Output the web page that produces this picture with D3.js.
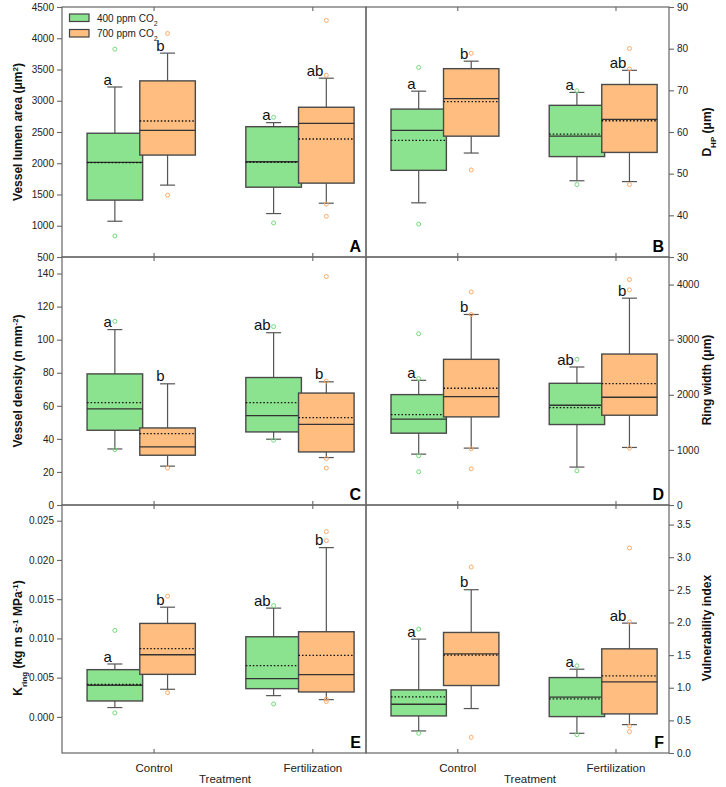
<!DOCTYPE html>
<html><head><meta charset="utf-8">
<script src="https://cdn.jsdelivr.net/npm/d3@7"></script>
<style>body{margin:0;background:#fff}svg{display:block}</style>
</head><body>
<script>
// ---------- data ----------
const categories = ["Control", "Fertilization"];
const seriesNames = ["400 ppm CO", "700 ppm CO"];
// box stats: [whiskerLow, q1, median, q3, whiskerHigh, mean]
const lumen400 = [[1072,1410,2013,2480,3220,2010],[1195,1617,2024,2585,2650,2013]];
const lumen700 = [[1650,2131,2527,3318,3762,2676],[1361,1682,2639,2896,3361,2388]];
const lumenOut400 = [[3826,837],[2735,1045]];
const lumenOut700 = [[4077,1489],[4286,3409,1345,1152]];
const lumenLet400 = ["a","a"], lumenLet700 = ["b","ab"];

const dhp400 = [[43.0,50.8,60.4,65.5,69.8,58.0],[48.3,54.1,59.0,66.4,69.5,59.5]];
const dhp700 = [[54.95,59.0,68.0,75.2,77.0,67.3],[48.1,55.1,63.05,71.4,74.8,62.7]];
const dhpOut400 = [[75.5,37.9],[69.9,47.4]];
const dhpOut700 = [[78.9,50.9],[80.05,75.1,47.4]];
const dhpLet400 = ["a","a"], dhpLet700 = ["b","ab"];

const dens400 = [[33.9,45.2,58.2,79.3,106.1,61.9],[39.8,44.2,54.0,77.1,104.2,61.9]];
const dens700 = [[23.5,30.1,35.2,46.6,73.3,43.2],[28.7,32.1,48.8,67.7,74.5,52.8]];
const densOut400 = [[111.1,33.5],[107.9,39.2]];
const densOut700 = [[22.3],[138.2,74.9,28.1,22.3]];
const densLet400 = ["a","ab"], densLet700 = ["b","b"];

const ring400 = [[923,1303,1557,2003,2262,1641],[688,1460,1810,2208,2504,1768]];
const ring700 = [[1032,1599,1967,2643,3457,2118],[1044,1629,1955,2739,3753,2202]];
const ringOut400 = [[3107,2293,893,603],[2643,621]];
const ringOut700 = [[3867,3457,1020,658],[4090,3903,1032]];
const ringLet400 = ["a","ab"], ringLet700 = ["b","b"];

const kring400 = [[0.00119,0.00203,0.00403,0.00602,0.00674,0.00415],[0.00271,0.00360,0.00487,0.01021,0.01386,0.00653]];
const kring700 = [[0.00352,0.00542,0.00792,0.01191,0.01398,0.00869],[0.00220,0.00318,0.00538,0.01085,0.02157,0.00784]];
const kringOut400 = [[0.01102,0.00051],[0.01419,0.00165]];
const kringOut700 = [[0.01538,0.00309],[0.0236,0.02246,0.00225,0.00195]];
const kringLet400 = ["a","ab"], kringLet700 = ["b","b"];

const vuln400 = [[0.338,0.568,0.747,0.967,1.745,0.860],[0.302,0.558,0.855,1.156,1.284,0.829]];
const vuln700 = [[0.681,1.034,1.520,1.847,2.502,1.499],[0.435,0.599,1.090,1.596,1.990,1.182]];
const vulnOut400 = [[1.898,0.302],[1.336,0.281]];
const vulnOut700 = [[2.850,0.240],[3.142,2.006,0.414,0.327]];
const vulnLet400 = ["a","a"], vulnLet700 = ["b","ab"];

const lumenTicks = [500,1000,1500,2000,2500,3000,3500,4000,4500];
const dhpTicks = [30,40,50,60,70,80,90];
const densTicks = [0,20,40,60,80,100,120,140];
const ringTicks = [0,1000,2000,3000,4000];
const kringTicks = [0,0.005,0.010,0.015,0.020,0.025];
const vulnTicks = [0,0.5,1.0,1.5,2.0,2.5,3.0,3.5];
const panelLetters = ["A","B","C","D","E","F"];

// ---------- layout ----------
const FONT = "'Liberation Sans', Arial, sans-serif";
const colors = ["#8BE28F", "#FFBE80"];
const outColors = ["#74da7a", "#ffaa66"];
const cols = [{x0:62,x1:366,side:"left"},{x0:366,x1:669,side:"right"}];
const rows = [{y0:7,y1:257},{y0:257,y1:505},{y0:505,y1:753}];

const panels = [
  {r:0,c:0,dom:[500,4500],ticks:lumenTicks,fmt:d3.format("d"),s:[lumen400,lumen700],o:[lumenOut400,lumenOut700],l:[lumenLet400,lumenLet700]},
  {r:0,c:1,dom:[30,90],ticks:dhpTicks,fmt:d3.format("d"),s:[dhp400,dhp700],o:[dhpOut400,dhpOut700],l:[dhpLet400,dhpLet700]},
  {r:1,c:0,dom:[0,150],ticks:densTicks,fmt:d3.format("d"),s:[dens400,dens700],o:[densOut400,densOut700],l:[densLet400,densLet700]},
  {r:1,c:1,dom:[0,4500],ticks:ringTicks,fmt:d3.format("d"),s:[ring400,ring700],o:[ringOut400,ringOut700],l:[ringLet400,ringLet700]},
  {r:2,c:0,dom:[-0.0046,0.027],ticks:kringTicks,fmt:d3.format(".3f"),s:[kring400,kring700],o:[kringOut400,kringOut700],l:[kringLet400,kringLet700]},
  {r:2,c:1,dom:[0,3.8],ticks:vulnTicks,fmt:d3.format(".1f"),s:[vuln400,vuln700],o:[vulnOut400,vulnOut700],l:[vulnLet400,vulnLet700]}
];

const svg = d3.select("body").append("svg").attr("width",726).attr("height",787)
  .style("font-family",FONT);

const seriesOffset = [-0.247, 0.085];
const halfBox = 0.175;

panels.forEach((p,pi)=>{
  const col = cols[p.c], row = rows[p.r];
  const x = d3.scaleLinear().domain([0.42,2.335]).range([col.x0,col.x1]);
  const y = d3.scaleLinear().domain(p.dom).range([row.y1,row.y0]);
  const g = svg.append("g");

  const ax = col.side==="left" ? d3.axisLeft(y) : d3.axisRight(y);
  ax.tickValues(p.ticks).tickFormat(p.fmt).tickSize(5).tickPadding(3);
  const ag = g.append("g").attr("transform",`translate(${col.side==="left"?col.x0:col.x1},0)`).call(ax);
  ag.select(".domain").remove();
  ag.selectAll("line").attr("stroke","#666").attr("stroke-width",1.1);
  ag.selectAll("text").attr("font-size",10).attr("fill","#222").style("font-family",FONT);

  [1,2].forEach(v=>{
    g.append("line").attr("x1",x(v)).attr("x2",x(v)).attr("y1",row.y0).attr("y2",row.y0+4).attr("stroke","#666").attr("stroke-width",1.1);
    g.append("line").attr("x1",x(v)).attr("x2",x(v)).attr("y1",row.y1).attr("y2",row.y1-4).attr("stroke","#666").attr("stroke-width",1.1);
  });

  categories.forEach((cat,ci)=>{
    [0,1].forEach(si=>{
      const d = p.s[si][ci];
      const cx = x(ci+1+seriesOffset[si]);
      const xl = x(ci+1+seriesOffset[si]-halfBox), xr = x(ci+1+seriesOffset[si]+halfBox);
      const bg = g.append("g");
      bg.append("line").attr("x1",cx).attr("x2",cx).attr("y1",y(d[3])).attr("y2",y(d[4])).attr("stroke","#555").attr("stroke-width",1.2);
      bg.append("line").attr("x1",cx).attr("x2",cx).attr("y1",y(d[1])).attr("y2",y(d[0])).attr("stroke","#555").attr("stroke-width",1.2);
      bg.append("line").attr("x1",cx-7.5).attr("x2",cx+7.5).attr("y1",y(d[4])).attr("y2",y(d[4])).attr("stroke","#555").attr("stroke-width",1.2);
      bg.append("line").attr("x1",cx-7.5).attr("x2",cx+7.5).attr("y1",y(d[0])).attr("y2",y(d[0])).attr("stroke","#555").attr("stroke-width",1.2);
      bg.append("rect").attr("x",xl).attr("y",y(d[3])).attr("width",xr-xl).attr("height",y(d[1])-y(d[3]))
        .attr("fill",colors[si]).attr("stroke","#4a4a4a").attr("stroke-width",1.4);
      bg.append("line").attr("x1",xl).attr("x2",xr).attr("y1",y(d[2])).attr("y2",y(d[2])).attr("stroke","#333").attr("stroke-width",1.3);
      bg.append("line").attr("x1",xl).attr("x2",xr).attr("y1",y(d[5])).attr("y2",y(d[5])).attr("stroke","#111").attr("stroke-width",1.3).attr("stroke-dasharray","1.5,2");
    });
  });
  categories.forEach((cat,ci)=>{
    [0,1].forEach(si=>{
      const cx = x(ci+1+seriesOffset[si]);
      g.selectAll(null).data(p.o[si][ci]).enter().append("circle")
        .attr("cx",cx).attr("cy",v=>y(v)).attr("r",2)
        .attr("fill","none").attr("stroke",outColors[si]).attr("stroke-width",1);
      const d = p.s[si][ci];
      g.append("text").attr("x",cx-3).attr("y",y(d[4])-2.5).attr("text-anchor","end")
        .attr("font-size",15).attr("fill","#111").text(p.l[si][ci]);
    });
  });

  g.append("rect").attr("x",col.x0).attr("y",row.y0).attr("width",col.x1-col.x0).attr("height",row.y1-row.y0)
    .attr("fill","none").attr("stroke","#666").attr("stroke-width",1.2);

  g.append("text").attr("x",col.x1-5).attr("y",row.y1-5).attr("text-anchor","end")
    .attr("font-size",16).attr("font-weight","bold").attr("fill","#000").text(panelLetters[pi]);
});

function title(xp, yp, parts){
  const t = svg.append("text").attr("transform",`translate(${xp},${yp}) rotate(-90)`)
    .attr("text-anchor","middle").attr("font-size",12).attr("font-weight","bold").attr("fill","#111");
  parts.forEach(pt=>{
    const ts = t.append("tspan").text(pt.t);
    if(pt.sup){ts.attr("baseline-shift","super").attr("font-size",8);}
    if(pt.sub){ts.attr("baseline-shift","sub").attr("font-size",8);}
  });
}
title(22,132,[{t:"Vessel lumen area (\u03bcm"},{t:"2",sup:1},{t:")"}]);
title(22,381,[{t:"Vessel density (n mm"},{t:"-2",sup:1},{t:")"}]);
title(22,638,[{t:"K"},{t:"ring",sub:1},{t:" (kg m s"},{t:"-1",sup:1},{t:" MPa"},{t:"-1",sup:1},{t:")"}]);
title(711,132,[{t:"D"},{t:"HP",sub:1},{t:" (\u03bcm)"}]);
title(711,380,[{t:"Ring width (\u03bcm)"}]);
title(711,628,[{t:"Vulnerability index"}]);

cols.forEach((col,i)=>{
  const x = d3.scaleLinear().domain([0.42,2.335]).range([col.x0,col.x1]);
  categories.forEach((c,ci)=>{
    svg.append("text").attr("x",x(ci+1)).attr("y",772).attr("text-anchor","middle")
      .attr("font-size",11.5).attr("fill","#222").text(c);
  });
  svg.append("text").attr("x",i===0?225:530).attr("y",783).attr("text-anchor","middle")
    .attr("font-size",11.5).attr("fill","#222").text("Treatment");
});

const lg = svg.append("g");
seriesNames.forEach((n,i)=>{
  lg.append("rect").attr("x",69.5).attr("y",14+i*15.5).attr("width",19.5).attr("height",7.5)
    .attr("fill",colors[i]).attr("stroke","#444").attr("stroke-width",1.2);
  const t = lg.append("text").attr("x",97).attr("y",21.5+i*15.5).attr("font-size",10).attr("fill","#222");
  t.append("tspan").text(n);
  t.append("tspan").attr("baseline-shift","sub").attr("font-size",7).text("2");
});
</script>
</body></html>
